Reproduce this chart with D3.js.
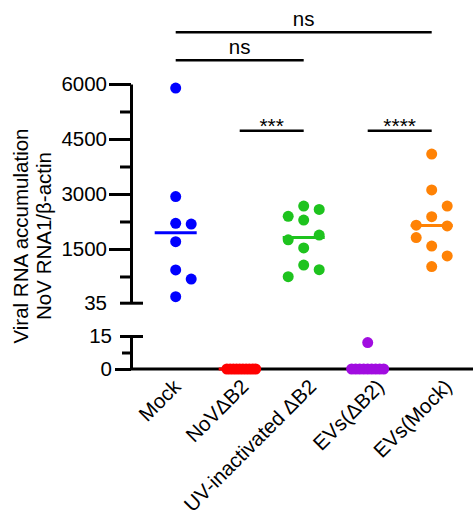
<!DOCTYPE html>
<html lang="en">
  <head>
    <meta charset="UTF-8" />
    <title>Viral RNA accumulation</title>
    <style>
      body {
        margin: 0;
        background: #fff;
      }
      .chart-box text {
        font-family: "Liberation Sans", Arial, sans-serif;
        fill: #000;
      }
    </style>
    <script src="https://cdn.jsdelivr.net/npm/d3@7"></script>
  </head>
  <body>
    <div class="chart-box"></div>
    <script>
      // data (NoV RNA1 / beta-actin)
      const categories = ["Mock", "NoVΔB2", "UV-inactivated ΔB2", "EVs(ΔB2)", "EVs(Mock)"];
      const mockValues = [5890, 2930, 2200, 2180, 1700, 930, 680, 200];
      const noVB2Values = [0, 0, 0, 0, 0, 0, 0, 0, 0, 0];
      const uvB2Values = [2670, 2580, 2390, 2290, 1530, 1880, 1750, 1060, 935, 745];
      const evB2Values = [12, 0, 0, 0, 0, 0, 0, 0, 0, 0];
      const evMockValues = [4090, 3110, 2380, 2670, 1580, 2130, 2150, 1810, 1310, 1020];
      const groupColors = ["#0000ff", "#ff0000", "#1ec31e", "#a10de0", "#ff8205"];

      const upperTicks = [35, 1500, 3000, 4500, 6000];
      const upperMinorTicks = [750, 2250, 3750, 5250];
      const lowerTicks = [0, 15];
      const lowerMinorTicks = [7.5];

      const comparisons = [
        ["Mock", "EVs(Mock)", "ns"],
        ["Mock", "UV-inactivated ΔB2", "ns"],
        ["NoVΔB2", "UV-inactivated ΔB2", "***"],
        ["EVs(ΔB2)", "EVs(Mock)", "****"],
      ];

      function init() {
        const groups = [mockValues, noVB2Values, uvB2Values, evB2Values, evMockValues];
        const width = 473,
          height = 517;
        const axisX = 131;

        const svg = d3
          .select(".chart-box")
          .append("svg")
          .attr("width", width)
          .attr("height", height);

        const x = d3.scalePoint().domain(categories).range([175.7, 431.7]);
        const labelX = d3.scalePoint().domain(categories).range([182, 453]);
        const yUpper = d3.scaleLinear().domain([35, 6000]).range([302.7, 84]);
        const yLower = d3.scaleLinear().domain([0, 15]).range([369, 336]);
        const yOf = (v) => (v >= 35 ? yUpper(v) : yLower(v));

        // prism-like swarm: center, right, left, then spread further
        function swarm(values) {
          const D = 13;
          const placed = [];
          values.forEach((v) => {
            const y = yOf(v);
            const clash = (k) =>
              placed
                .filter((p) => p.slot === k)
                .reduce((m, p) => Math.min(m, Math.abs(p.y - y)), Infinity);
            let slot = [0, 1, -1].find((k) => clash(k) >= D);
            if (slot === undefined) {
              const best = [0, 1, -1].reduce((a, b) => (clash(b) > clash(a) ? b : a));
              if (clash(best) >= D / 2) slot = best;
              for (let n = 2; slot === undefined; n++) {
                if (clash(n) >= D) slot = n;
                else if (clash(-n) >= D) slot = -n;
              }
            }
            placed.push({ v, y, slot });
          });
          const maxLevel = d3.max(placed, (p) => Math.abs(p.slot));
          const step = maxLevel > 1 ? 16 / maxLevel : 15.5;
          placed.forEach((p) => (p.dx = p.slot * step));
          return placed;
        }

        // y axis, upper segment
        const upper = svg
          .append("g")
          .attr("transform", "translate(" + axisX + ",0)")
          .call(
            d3
              .axisLeft(yUpper)
              .tickValues(upperTicks)
              .tickFormat(d3.format("d"))
              .tickSize(22)
              .tickSizeOuter(0)
              .tickPadding(2)
          );
        svg
          .append("g")
          .attr("transform", "translate(" + axisX + ",0)")
          .call(d3.axisLeft(yUpper).tickValues(upperMinorTicks).tickSize(11).tickFormat(""))
          .call((g) => g.select(".domain").remove());
        upper
          .selectAll(".tick")
          .filter((d) => d === 35)
          .select("line")
          .attr("x1", 12)
          .attr("x2", -11);

        // y axis, lower segment
        const lower = svg
          .append("g")
          .attr("transform", "translate(" + axisX + ",0)")
          .call(
            d3
              .axisLeft(yLower)
              .tickValues(lowerTicks)
              .tickFormat(d3.format("d"))
              .tickSize(16)
              .tickSizeOuter(0)
              .tickPadding(3)
          );
        svg
          .append("g")
          .attr("transform", "translate(" + axisX + ",0)")
          .call(d3.axisLeft(yLower).tickValues(lowerMinorTicks).tickSize(9).tickFormat(""))
          .call((g) => g.select(".domain").remove());
        lower
          .selectAll(".tick")
          .filter((d) => d === 15)
          .select("line")
          .attr("x1", 12)
          .attr("x2", -11);

        svg
          .selectAll(".domain, .tick line")
          .attr("stroke", "#000")
          .attr("stroke-width", 3);
        svg
          .selectAll(".tick text")
          .attr("font-size", 20.5)
          .attr("font-family", '"Liberation Sans", Arial, sans-serif');
        svg.selectAll("g").attr("font-size", null).attr("font-family", null);

        // x axis line
        svg
          .append("line")
          .attr("x1", axisX)
          .attr("x2", width)
          .attr("y1", yLower(0))
          .attr("y2", yLower(0))
          .attr("stroke", "#000")
          .attr("stroke-width", 3);

        // x labels
        svg
          .append("g")
          .selectAll("text")
          .data(categories)
          .enter()
          .append("text")
          .attr("transform", (d) => "translate(" + labelX(d) + ",388) rotate(-45)")
          .attr("text-anchor", "end")
          .attr("font-size", 20.5)
          .text((d) => d);

        // y title
        const title = svg.append("g").attr("transform", "translate(0,236) rotate(-90)");
        title
          .append("text")
          .attr("y", 28)
          .attr("text-anchor", "middle")
          .attr("font-size", 20.5)
          .text("Viral RNA accumulation");
        title
          .append("text")
          .attr("y", 51)
          .attr("text-anchor", "middle")
          .attr("font-size", 20.5)
          .text("NoV RNA1/β-actin");

        // points and medians
        groups.forEach((values, i) => {
          const cat = categories[i];
          const color = groupColors[i];
          const pts = swarm(values);
          svg
            .append("g")
            .selectAll("circle")
            .data(pts)
            .enter()
            .append("circle")
            .attr("cx", (d) => x(cat) + d.dx)
            .attr("cy", (d) => d.y)
            .attr("r", 5.5)
            .attr("fill", color);
          const m = d3.median(values);
          svg
            .append("line")
            .attr("x1", x(cat) - 21)
            .attr("x2", x(cat) + 21)
            .attr("y1", yOf(m))
            .attr("y2", yOf(m))
            .attr("stroke", color)
            .attr("stroke-width", 3);
        });

        // significance brackets
        const bracketY = [32.3, 60.3, 130.7, 130.7];
        comparisons.forEach(([a, b, label], i) => {
          const y = bracketY[i];
          svg
            .append("line")
            .attr("x1", x(a))
            .attr("x2", x(b))
            .attr("y1", y)
            .attr("y2", y)
            .attr("stroke", "#000")
            .attr("stroke-width", 2.5);
          const stars = label !== "ns";
          svg
            .append("text")
            .attr("x", (x(a) + x(b)) / 2)
            .attr("y", stars ? y + 2.5 : y - 6)
            .attr("text-anchor", "middle")
            .attr("font-size", stars ? 21 : 20.5)
            .text(label);
        });
      }

      init();
    </script>
  </body>
</html>
